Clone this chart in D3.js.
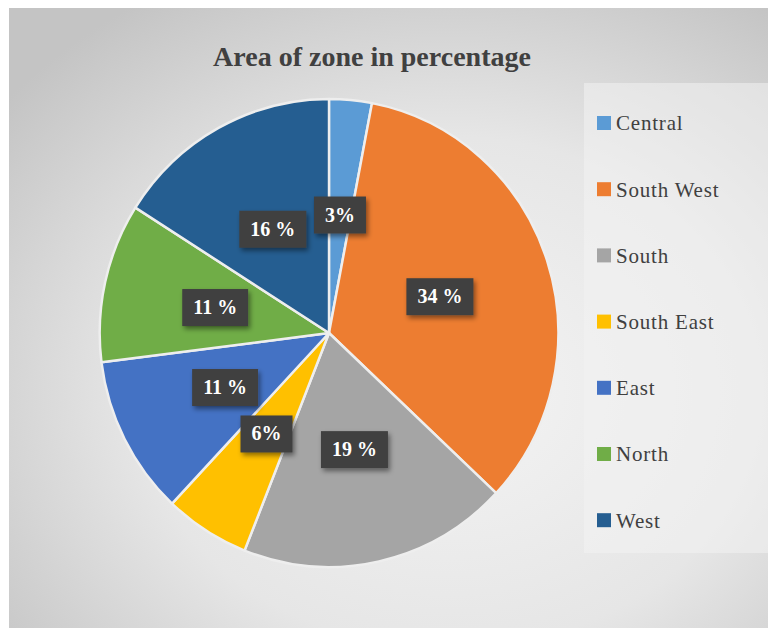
<!DOCTYPE html>
<html>
<head>
<meta charset="utf-8">
<script src="https://cdn.jsdelivr.net/npm/d3@7"></script>
<style>
  body { margin: 0; background: #fff; }
  svg { display: block; }
</style>
</head>
<body>
<div id="chart"></div>
<script>
var width = 771,
  height = 630;

// data
var zones = ["Central", "South West", "South", "South East", "East", "North", "West"];
var shares = [3, 34, 19, 6, 11, 11, 16];
var colors = ["#5B9BD5", "#ED7D31", "#A5A5A5", "#FFC000", "#4472C4", "#70AD47", "#255E91"];

var data = zones.map(function (z, i) {
  return { zone: z, value: shares[i] };
});

var svg = d3
  .select("#chart")
  .append("svg")
  .attr("width", width)
  .attr("height", height);

var defs = svg.append("defs");

var bg = defs
  .append("radialGradient")
  .attr("id", "bg")
  .attr("cx", "58%")
  .attr("cy", "62%")
  .attr("r", "75%");
bg.append("stop").attr("offset", "0%").attr("stop-color", "#f4f4f4");
bg.append("stop").attr("offset", "55%").attr("stop-color", "#e6e6e6");
bg.append("stop").attr("offset", "100%").attr("stop-color", "#c4c4c4");

var shadow = defs
  .append("filter")
  .attr("id", "shadow")
  .attr("x", "-30%")
  .attr("y", "-30%")
  .attr("width", "170%")
  .attr("height", "170%");
shadow
  .append("feDropShadow")
  .attr("dx", 2)
  .attr("dy", 3)
  .attr("stdDeviation", 2.5)
  .attr("flood-color", "#000")
  .attr("flood-opacity", 0.45);

// chart area
svg
  .append("rect")
  .attr("x", 9)
  .attr("y", 8)
  .attr("width", width - 12)
  .attr("height", 620)
  .attr("fill", "url(#bg)");

// legend panel
svg
  .append("rect")
  .attr("x", 584)
  .attr("y", 83)
  .attr("width", width - 587)
  .attr("height", 470)
  .attr("fill", "#f3f3f3")
  .attr("opacity", 0.55);

svg
  .append("text")
  .attr("x", 372)
  .attr("y", 66)
  .attr("text-anchor", "middle")
  .attr("font-family", "Liberation Serif, Times New Roman, serif")
  .attr("font-weight", "bold")
  .attr("font-size", 28)
  .attr("fill", "#404040")
  .text("Area of zone in percentage");

var cx = 329,
  cy = 333,
  radius = 234;

var pie = d3.pie().sort(null).value(function (d) { return d.value; });
var arcs = pie(data);

var arc = d3.arc().innerRadius(0).outerRadius(radius);
var labelArc = d3.arc().innerRadius(119).outerRadius(119);

var color = d3.scaleOrdinal().domain(zones).range(colors);

svg
  .append("g")
  .attr("transform", "translate(" + cx + "," + cy + ") scale(0.98,1)")
  .selectAll("path")
  .data(arcs)
  .enter()
  .append("path")
  .attr("d", arc)
  .attr("fill", function (d) { return color(d.data.zone); })
  .attr("stroke", "#eeeeee")
  .attr("stroke-width", 2.5)
  .attr("stroke-linejoin", "round");

// data labels
var labels = svg
  .append("g")
  .attr("transform", "translate(" + cx + "," + cy + ")")
  .selectAll("g")
  .data(arcs)
  .enter()
  .append("g")
  .attr("transform", function (d) {
    var c = labelArc.centroid(d);
    return "translate(" + c[0] * 0.98 + "," + c[1] + ")";
  });

labels
  .append("text")
  .attr("text-anchor", "middle")
  .attr("dy", "0.35em")
  .attr("font-family", "Liberation Serif, Times New Roman, serif")
  .attr("font-weight", "bold")
  .attr("font-size", 20)
  .attr("fill", "#ffffff")
  .text(function (d) {
    return d.data.value >= 10 ? d.data.value + " %" : d.data.value + "%";
  });

labels.each(function () {
  var g = d3.select(this);
  var bb = g.select("text").node().getBBox();
  g.insert("rect", "text")
    .attr("x", bb.x - 11)
    .attr("y", -18)
    .attr("width", bb.width + 22)
    .attr("height", 37)
    .attr("fill", "#404040")
    .attr("filter", "url(#shadow)");
});

// legend
var legend = svg
  .append("g")
  .selectAll("g")
  .data(zones)
  .enter()
  .append("g")
  .attr("transform", function (d, i) {
    return "translate(597," + (123 + i * 66.2) + ")";
  });

legend
  .append("rect")
  .attr("x", 0)
  .attr("y", -7)
  .attr("width", 14)
  .attr("height", 14)
  .attr("fill", function (d) { return color(d); });

legend
  .append("text")
  .attr("x", 19)
  .attr("dy", "0.35em")
  .attr("font-family", "Liberation Serif, Times New Roman, serif")
  .attr("font-size", 21)
  .attr("letter-spacing", 0.8)
  .attr("fill", "#404040")
  .text(function (d) { return d; });
</script>
</body>
</html>
